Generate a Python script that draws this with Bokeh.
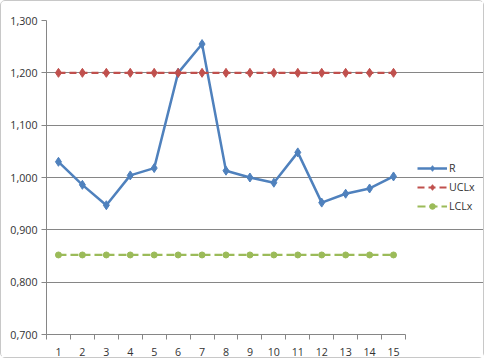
from bokeh.plotting import figure
from bokeh.models import FixedTicker, Legend, LegendItem
from bokeh.embed import file_html
from bokeh.resources import INLINE

samples = list(range(1, 16))
r_values = [1.030, 0.986, 0.947, 1.004, 1.018, 1.200, 1.255, 1.013, 1.000, 0.990, 1.048, 0.952, 0.969, 0.979, 1.002]
ucl_values = [1.200] * 15
lcl_values = [0.852] * 15
y_ticks = [0.7, 0.8, 0.9, 1.0, 1.1, 1.2, 1.3]
y_labels = ["0,700", "0,800", "0,900", "1,000", "1,100", "1,200", "1,300"]

blue = "#4F81BD"
red = "#C0504D"
green = "#9BBB59"

p = figure(width=484, height=358, output_backend="svg", toolbar_location=None,
           x_range=(0.5, 18.76), y_range=(0.7, 1.3),
           min_border_left=45, min_border_top=19, min_border_bottom=25, min_border_right=2)
p.styles = {"border": "1px solid #c8c8c8", "border-radius": "5px"}
p.outline_line_color = None
p.background_fill_color = "white"

r_line = p.line(samples, r_values, line_color=blue, line_width=2.5)
r_mark = p.scatter(samples, r_values, marker="diamond", size=9, fill_color=blue, line_color=blue)
u_line = p.line(samples, ucl_values, line_color=red, line_width=2.2, line_dash="7 4")
u_mark = p.scatter(samples, ucl_values, marker="diamond", size=9, fill_color=red, line_color=red)
l_line = p.line(samples, lcl_values, line_color=green, line_width=2.2, line_dash="8 4")
l_mark = p.scatter(samples, lcl_values, marker="circle", size=6, fill_color=green, line_color=green)

legend = Legend(items=[LegendItem(label="R", renderers=[r_line, r_mark]),
                       LegendItem(label="UCLx", renderers=[u_line, u_mark]),
                       LegendItem(label="LCLx", renderers=[l_line, l_mark])],
                border_line_color=None, background_fill_alpha=0,
                label_text_font="Open Sans", label_text_font_size="8pt", label_text_color="#333333",
                glyph_width=30, glyph_height=14, spacing=5, padding=2, margin=0,
                label_standoff=2, location=(371, 121))
p.add_layout(legend, "center")

p.xaxis.ticker = FixedTicker(ticks=samples, minor_ticks=[i + 0.5 for i in range(0, 16)])
p.xaxis.bounds = (0.5, 15.5)
p.xaxis.major_tick_out = 0
p.xaxis.major_tick_in = 0
p.xaxis.minor_tick_out = 5
p.xaxis.minor_tick_in = 0
p.xaxis.minor_tick_line_color = "#868686"
p.xaxis.axis_line_color = "#868686"
p.xaxis.major_label_standoff = 8

p.yaxis.ticker = FixedTicker(ticks=y_ticks, minor_ticks=[])
p.yaxis.major_label_overrides = {t: l for t, l in zip(y_ticks, y_labels)}
p.yaxis.major_tick_out = 5
p.yaxis.major_tick_in = 0
p.yaxis.major_tick_line_color = "#868686"
p.yaxis.axis_line_color = "#868686"
p.yaxis.major_label_standoff = 4

for ax in (p.xaxis, p.yaxis):
    ax.major_label_text_font = "Open Sans"
    ax.major_label_text_font_size = "8pt"
    ax.major_label_text_color = "#333333"

p.xgrid.grid_line_color = None
p.ygrid.grid_line_color = "#868686"
p.ygrid.ticker = FixedTicker(ticks=y_ticks)
p.ygrid.bounds = (0.5, 15.5)

open("out.html", "w").write(file_html(p, INLINE))
